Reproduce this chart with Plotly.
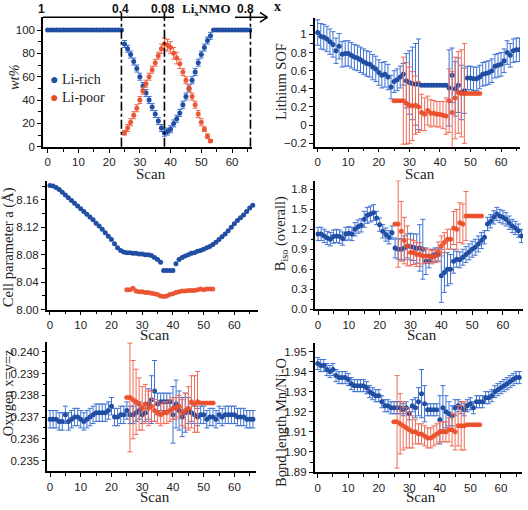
import plotly.graph_objects as go

W, H = 528, 510

# ---------------- data ----------------
scan_rich = list(range(0, 67))
scan_poor = list(range(25, 54))

wt_rich = [100]*25 + [88, 84, 79, 73, 67, 60, 52, 46, 40, 34, 28, 22, 16, 12, 13, 15, 20, 24, 29, 36,
                      43, 50, 57, 64, 72, 79, 85, 91, 95] + [100]*13
wt_rich_err = [0]*25 + [3]*29 + [0]*13
wt_poor = [12, 16, 21, 27, 33, 40, 48, 54, 60, 66, 72, 78, 84, 88, 87, 85, 80, 76, 71, 64,
           57, 50, 43, 36, 28, 21, 15, 9, 5]
wt_poor_err = [2, 3, 3, 3, 3, 3, 3, 3, 3, 3, 3, 3, 4, 5, 5, 5, 5, 5, 4, 3, 3, 3, 3, 3, 3, 3, 2, 2, 1]

sof_rich = [1.02, 0.98, 0.97, 0.95, 0.92, 0.89, 0.82, 0.87, 0.78, 0.79,
            0.79, 0.77, 0.75, 0.74, 0.72, 0.70, 0.68, 0.67, 0.64, 0.62,
            0.58, 0.55, 0.56, 0.53, 0.42, 0.48, 0.50, 0.53, 0.56, 0.49,
            0.47, 0.46, 0.45, 0.45, 0.44, 0.44, 0.44, 0.44, 0.44, 0.44,
            0.44, 0.44, 0.44, 0.41, 0.55, 0.40, 0.44, 0.36, 0.38, 0.52,
            0.52, 0.51, 0.51, 0.53, 0.56, 0.57, 0.58, 0.60, 0.65, 0.66,
            0.67, 0.71, 0.80, 0.77, 0.82, 0.83, 0.83]
sof_rich_err = [0.14]*24 + [0.13, 0.12, 0.12, 0.12, 0.12, 0.30, 0.35, 0.40, 0.45, 0.50,
                            0, 0, 0, 0, 0, 0, 0, 0, 0, 0.42, 0.30, 0.30, 0.30, 0.30, 0.25] + [0.13]*18
sof_poor = [0.27, 0.27, 0.27, 0.27, 0.24, 0.22, 0.21, 0.22, 0.20, 0.14,
            0.12, 0.16, 0.13, 0.13, 0.12, 0.12, 0.11, 0.10, 0.27, 0.14,
            0.30, 0.36, 0.35, 0.35, 0.35, 0.35, 0.35, 0.35, 0.35]
sof_poor_err = [0, 0, 0, 0.48, 0.45, 0.42, 0.38, 0.32, 0.28, 0.20,
                0.18, 0.16, 0.15, 0.14, 0.14, 0.14, 0.15, 0.20, 0.35, 0.45,
                0.45, 0.45, 0.48, 0.55, 0, 0, 0, 0, 0]

cell_rich = [8.181, 8.180, 8.178, 8.175, 8.171, 8.167, 8.163, 8.159, 8.155, 8.151,
             8.147, 8.143, 8.139, 8.135, 8.131, 8.126, 8.122, 8.117, 8.112, 8.107,
             8.102, 8.096, 8.090, 8.086, 8.084, 8.083, 8.083, 8.082, 8.082, 8.081,
             8.081, 8.080, 8.080, 8.079, 8.076, 8.073, 8.069, 8.057, 8.057, 8.057,
             8.057, 8.067, 8.073, 8.076, 8.078, 8.080, 8.082, 8.083, 8.085, 8.086,
             8.088, 8.090, 8.092, 8.095, 8.098, 8.102, 8.106, 8.110, 8.115, 8.120,
             8.125, 8.130, 8.134, 8.138, 8.143, 8.148, 8.152]
cell_poor = [8.029, 8.029, 8.031, 8.027, 8.026, 8.026, 8.025, 8.025, 8.024, 8.023,
             8.022, 8.020, 8.019, 8.020, 8.022, 8.023, 8.025, 8.026, 8.027, 8.027,
             8.028, 8.028, 8.028, 8.029, 8.030, 8.029, 8.030, 8.030, 8.030]

biso_rich = [1.13, 1.13, 1.10, 1.07, 1.05, 1.09, 1.10, 1.09, 1.06, 1.13,
             1.14, 1.13, 1.20, 1.24, 1.26, 1.35, 1.41, 1.43, 1.45, 1.37,
             1.27, 1.17, 1.12, 1.08, 1.15, 0.92, 0.90, 0.90, 0.92, 0.95,
             0.94, 0.93, 0.91, 0.92, 0.90, 0.72, 0.72, 0.80, 0.82, 0.82,
             0.50, 0.55, 0.60, 0.60, 0.72, 0.75, 0.74, 0.78, 0.82, 0.86,
             0.90, 0.93, 0.98, 1.03, 1.08, 1.28, 1.32, 1.38, 1.43, 1.40,
             1.38, 1.35, 1.30, 1.25, 1.22, 1.18, 1.10]
biso_rich_err = [0.10]*15 + [0.12, 0.12, 0.12, 0.12] + [0.10]*6 + \
                [0.15, 0.15, 0.16, 0.18, 0.18, 0.20, 0.20, 0.22, 0.35, 0.45,
                 0.20, 0.10, 0.10, 0.10, 0.10, 0.40, 0.30, 0.25, 0.22, 0.18,
                 0.12, 0.12, 0.12, 0.12, 0.12, 0.12, 0.12, 0.12, 0.12] + [0.10]*13
biso_poor = [1.28, 1.28, 1.17, 1.03, 0.95, 0.85, 0.85, 0.82, 0.82, 0.80,
             0.80, 0.80, 0.78, 0.80, 0.86, 0.95, 1.00, 1.05, 1.05, 1.22,
             1.20, 1.30, 1.28, 1.40, 1.40, 1.40, 1.40, 1.40, 1.40]
biso_poor_err = [0, 0.65, 0.45, 0.35, 0.30, 0.20, 0.18, 0.18, 0.18, 0.12,
                 0.10, 0.10, 0.10, 0.10, 0.15, 0.15, 0.15, 0.15, 0.15, 0.25,
                 0.30, 0.30, 0.30, 0.37, 0, 0, 0, 0, 0]

oxy_rich = [0.2369, 0.2369, 0.2369, 0.2368, 0.2368, 0.2371, 0.2368, 0.2369, 0.2370, 0.2370,
            0.2369, 0.2368, 0.2369, 0.2370, 0.2371, 0.2372, 0.2372, 0.2372, 0.2372, 0.2373,
            0.2375, 0.2370, 0.2370, 0.2371, 0.2371, 0.2373, 0.2371, 0.2371, 0.2372, 0.2373,
            0.2371, 0.2372, 0.2376, 0.2378, 0.2382, 0.2376, 0.2377, 0.2377, 0.2377, 0.2377,
            0.2371, 0.2376, 0.2373, 0.2370, 0.2372, 0.2373, 0.2372, 0.2371, 0.2370, 0.2371,
            0.2371, 0.2369, 0.2370, 0.2370, 0.2369, 0.2371, 0.2370, 0.2371, 0.2371, 0.2371,
            0.2371, 0.2370, 0.2370, 0.2370, 0.2369, 0.2369, 0.2369]
oxy_rich_err = [0.0004]*32 + [0.0007, 0.0011, 0.0014, 0.0005, 0.0004, 0.0004, 0.0004, 0.0004,
                              0.0013, 0.0011, 0.0009, 0.0009, 0.0009, 0.0006] + [0.0004]*21
oxy_poor = [0.2379, 0.2379, 0.2378, 0.2377, 0.2376, 0.2374, 0.2376, 0.2374, 0.2375, 0.2373,
            0.2372, 0.2371, 0.2372, 0.2372, 0.2373, 0.2374, 0.2374, 0.2375, 0.2372, 0.2373,
            0.2374, 0.2377, 0.2376, 0.2377, 0.23765, 0.23765, 0.23765, 0.23765, 0.23765]
oxy_poor_err = [0, 0.0025, 0.0018, 0.0015, 0.0012, 0.0010, 0.0009, 0.0008, 0.0007, 0.0005,
                0.0005, 0.0005, 0.0005, 0.0005, 0.0005, 0.0005, 0.0005, 0.0005, 0.0006, 0.0008,
                0.0010, 0.0012, 0.0013, 0.0014, 0, 0, 0, 0, 0]

bond_rich = [1.944, 1.943, 1.943, 1.941, 1.940, 1.941, 1.938, 1.937, 1.937, 1.937,
             1.936, 1.934, 1.933, 1.933, 1.933, 1.933, 1.932, 1.930, 1.929, 1.928,
             1.928, 1.925, 1.923, 1.923, 1.922, 1.922, 1.922, 1.922, 1.921, 1.922,
             1.919, 1.923, 1.922, 1.925, 1.929, 1.924, 1.921, 1.921, 1.921, 1.921,
             1.916, 1.922, 1.920, 1.919, 1.918, 1.922, 1.923, 1.922, 1.921, 1.923,
             1.924, 1.922, 1.925, 1.925, 1.925, 1.927, 1.927, 1.928, 1.930, 1.931,
             1.932, 1.933, 1.934, 1.935, 1.936, 1.937, 1.937]
bond_rich_err = [0.003]*32 + [0.005, 0.007, 0.012, 0.009, 0.003, 0.003, 0.003, 0.003,
                              0.012, 0.011, 0.008, 0.006, 0.005, 0.004] + [0.003]*21
bond_poor = [1.915, 1.915, 1.914, 1.913, 1.912, 1.911, 1.910, 1.910, 1.909, 1.909,
             1.908, 1.907, 1.907, 1.908, 1.909, 1.910, 1.910, 1.910, 1.911, 1.911,
             1.910, 1.913, 1.913, 1.913, 1.9135, 1.9135, 1.9135, 1.9135, 1.9135]
bond_poor_err = [0, 0.023, 0.015, 0.012, 0.010, 0.009, 0.008, 0.006, 0.005, 0.005,
                 0.005, 0.005, 0.005, 0.005, 0.005, 0.005, 0.005, 0.005, 0.006, 0.008,
                 0.009, 0.010, 0.012, 0.012, 0, 0, 0, 0, 0]

top_labels = ["1", "0.4", "0.08", "0.8"]
boundary_scans = [24, 38, 66]

# ---------------- style ----------------
BLUE = "#1f4ea3"
BLUE_ERR = "#3f72d4"
RED = "#ea4a26"
RED_ERR = "#f06a55"
TICKFONT = dict(family="Liberation Sans, Arial, sans-serif", size=11.5, color="#222")
SERIF = "Liberation Serif, Times New Roman, serif"

# panels: (left, right, top, bottom px, xrange, yrange, ydtick, yminor, ytitle, title_x, title_y, scan_y)
panels = [
    (43, 252, 17.5, 148.5, [-1.53, 66.5], [0, 110.9], 20, 10, "<i>wt%</i>", 14, 78, 176),
    (314.7, 520, 18.3, 148.3, [-0.98, 66.2], [-0.236, 1.18], 0.2, 0.1, "Lithium SOF", 281, 83, 176),
    (46.7, 258, 183.3, 313.3, [-1.07, 67.7], [8.0, 8.1872], 0.04, 0.02, "Cell parameter a (Å)", 8, 250, 339),
    (315.3, 523, 182.7, 312.7, [-0.88, 66.5], [0.0, 1.934], 0.3, 0.15,
     "B<sub>iso</sub> (overall)", 281, 237, 339),
    (47.3, 256, 346, 476.7, [-0.88, 67.0], [0.234514, 0.240455], 0.001, 0.0005, "Oxygen x=y=z", 8, 398, 503),
    (314.7, 522, 346.7, 477.7, [-0.98, 66.9], [1.89, 1.9544], 0.01, 0.005,
     "Bond length Mn/Ni-O", 281, 428, 503),
]

series = [
    (wt_rich, wt_rich_err, wt_poor, wt_poor_err),
    (sof_rich, sof_rich_err, sof_poor, sof_poor_err),
    (cell_rich, None, cell_poor, None),
    (biso_rich, biso_rich_err, biso_poor, biso_poor_err),
    (oxy_rich, oxy_rich_err, oxy_poor, oxy_poor_err),
    (bond_rich, bond_rich_err, bond_poor, bond_poor_err),
]

fig = go.Figure()
layout = {}
annotations = []
shapes = []


def px(x):
    return x / W


def py(y):
    return 1 - y / H


for i, (p, s) in enumerate(zip(panels, series)):
    l, r, t, b, xr, yr, ydt, ymin, ytitle, tx, ty, sy = p
    n = i + 1
    xa = "xaxis" if n == 1 else f"xaxis{n}"
    ya = "yaxis" if n == 1 else f"yaxis{n}"
    xref = "x" if n == 1 else f"x{n}"
    yref = "y" if n == 1 else f"y{n}"
    common = dict(showgrid=False, zeroline=False, showline=True, linecolor="black", linewidth=1.5,
                  ticks="outside", ticklen=4, tickwidth=1.2, tickcolor="black", tickfont=TICKFONT)
    layout[xa] = dict(domain=[px(l), px(r)], range=xr, anchor=yref, tick0=0, dtick=10,
                      minor=dict(dtick=5, tick0=0, ticks="outside", ticklen=3, tickcolor="black"),
                      **common)
    ydict = dict(domain=[py(b), py(t)], range=yr, anchor=xref, dtick=ydt,
                 minor=dict(dtick=ymin, ticks="outside", ticklen=3, tickcolor="black"), **common)
    if n == 1:
        ydict["tickvals"] = [0, 20, 40, 60, 80, 100]
        ydict["minor"] = dict(tickvals=[10, 30, 50, 70, 90], ticks="outside", ticklen=3, tickcolor="black")
    if n == 3:
        ydict["tickformat"] = ".2f"
    if n == 5:
        ydict["tickformat"] = ".3f"
        ydict["tickvals"] = [0.235, 0.236, 0.237, 0.238, 0.239, 0.240]
    if n == 6:
        ydict["tickformat"] = ".2f"
    if n == 4:
        ydict["tickformat"] = ".1f"
    layout[ya] = ydict

    rich, rich_err, poor, poor_err = s
    fig.add_trace(go.Scatter(
        x=scan_rich, y=rich, mode="markers", xaxis=xref, yaxis=yref,
        marker=dict(color=BLUE, size=5), showlegend=False,
        error_y=(dict(type="data", array=rich_err, color=BLUE_ERR, thickness=1, width=2.5)
                 if rich_err is not None else None),
    ))
    fig.add_trace(go.Scatter(
        x=scan_poor, y=poor, mode="markers", xaxis=xref, yaxis=yref,
        marker=dict(color=RED, size=5, opacity=0.9), showlegend=False,
        error_y=(dict(type="data", array=poor_err, color=RED_ERR, thickness=1, width=2.5)
                 if poor_err is not None else None),
    ))

    annotations.append(dict(text=ytitle, x=px(tx), y=py(ty), xref="paper", yref="paper",
                            showarrow=False, textangle=-90, xanchor="center", yanchor="middle",
                            font=dict(family=SERIF, size=14.5, color="#222")))
    annotations.append(dict(text="Scan", x=px((l + r) / 2 + 3), y=py(sy), xref="paper", yref="paper",
                            showarrow=False, xanchor="center", yanchor="middle",
                            font=dict(family=SERIF, size=15, color="#222")))

# ---- panel 1 decorations: top composition axis, dash-dot boundaries, legend ----
for sc in boundary_scans:
    shapes.append(dict(type="line", xref="x", yref="paper", x0=sc, x1=sc, y0=py(148.5), y1=py(13),
                       line=dict(color="black", width=1.6, dash="dashdot")))
shapes.append(dict(type="line", xref="paper", yref="paper", x0=px(43), x1=px(174), y0=py(17.5), y1=py(17.5),
                   line=dict(color="black", width=1.5)))
shapes.append(dict(type="line", xref="paper", yref="paper", x0=px(235), x1=px(267), y0=py(17.5), y1=py(17.5),
                   line=dict(color="black", width=1.5)))
shapes.append(dict(type="line", xref="paper", yref="paper", x0=px(260), x1=px(267.5), y0=py(12.5), y1=py(17.5),
                   line=dict(color="black", width=1.5)))
shapes.append(dict(type="line", xref="paper", yref="paper", x0=px(260), x1=px(267.5), y0=py(22.5), y1=py(17.5),
                   line=dict(color="black", width=1.5)))

top_label_px = [41.7, 120, 163, 245]
for lab, lx in zip(top_labels, top_label_px):
    annotations.append(dict(text=f"<b>{lab}</b>", x=px(lx), y=py(9), xref="paper", yref="paper",
                            showarrow=False, xanchor="center", yanchor="middle",
                            font=dict(family="Liberation Sans, Arial, sans-serif", size=12, color="#111")))
annotations.append(dict(text="<b>Li<sub>x</sub>NMO</b>", x=px(206), y=py(10), xref="paper", yref="paper",
                        showarrow=False, xanchor="center", yanchor="middle",
                        font=dict(family=SERIF, size=13, color="#111")))
annotations.append(dict(text="<b>x</b>", x=px(277), y=py(7), xref="paper", yref="paper",
                        showarrow=False, xanchor="center", yanchor="middle",
                        font=dict(family=SERIF, size=14, color="#111")))

annotations.append(dict(text=f"<span style='color:{BLUE}'>●</span> Li-rich", x=px(48), y=py(80),
                        xref="paper", yref="paper", showarrow=False, xanchor="left", yanchor="middle",
                        font=dict(family=SERIF, size=14, color="#222")))
annotations.append(dict(text=f"<span style='color:{RED}'>●</span> Li-poor", x=px(48), y=py(99),
                        xref="paper", yref="paper", showarrow=False, xanchor="left", yanchor="middle",
                        font=dict(family=SERIF, size=14, color="#222")))

fig.update_layout(width=W, height=H, margin=dict(l=0, r=0, t=0, b=0),
                  paper_bgcolor="white", plot_bgcolor="white", showlegend=False,
                  annotations=annotations, shapes=shapes, **layout)

fig.write_html("out.html")
